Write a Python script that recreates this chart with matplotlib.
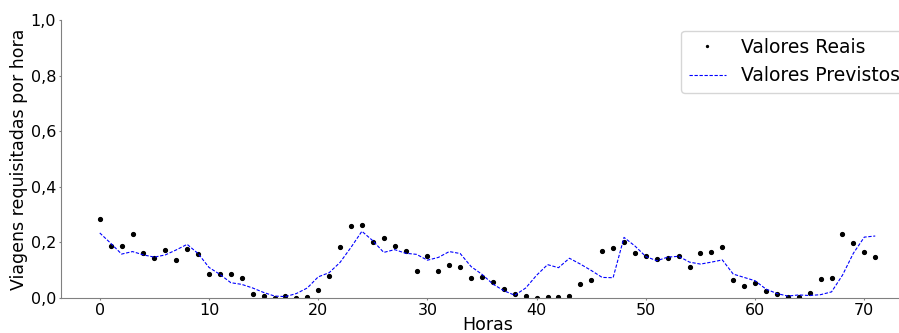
import matplotlib
matplotlib.use('Agg')
import matplotlib.pyplot as plt
import numpy as np

# dados
horas = np.arange(72)

reais = [0.284, 0.188, 0.188, 0.229, 0.163, 0.144, 0.173, 0.135, 0.175, 0.157,
         0.087, 0.087, 0.086, 0.073, 0.016, 0.006, 0.001, 0.008, 0.000, 0.004,
         0.030, 0.078, 0.182, 0.258, 0.263, 0.201, 0.217, 0.188, 0.170, 0.097,
         0.152, 0.097, 0.119, 0.113, 0.072, 0.076, 0.056, 0.034, 0.016, 0.007,
         0.000, 0.004, 0.002, 0.007, 0.050, 0.066, 0.170, 0.180, 0.201, 0.161,
         0.152, 0.139, 0.145, 0.152, 0.113, 0.161, 0.167, 0.183, 0.066, 0.043,
         0.053, 0.025, 0.016, 0.002, 0.004, 0.018, 0.070, 0.073, 0.229, 0.198,
         0.167, 0.149]

previstos = [0.234, 0.197, 0.158, 0.167, 0.155, 0.147, 0.155, 0.173, 0.193, 0.160,
             0.110, 0.085, 0.055, 0.049, 0.036, 0.020, 0.007, 0.005, 0.016, 0.036,
             0.076, 0.091, 0.128, 0.182, 0.240, 0.206, 0.164, 0.174, 0.161, 0.157,
             0.136, 0.146, 0.167, 0.160, 0.113, 0.085, 0.050, 0.026, 0.010, 0.036,
             0.082, 0.120, 0.109, 0.143, 0.122, 0.099, 0.074, 0.073, 0.218, 0.187,
             0.149, 0.134, 0.147, 0.150, 0.129, 0.122, 0.129, 0.137, 0.086, 0.074,
             0.062, 0.032, 0.016, 0.007, 0.011, 0.009, 0.012, 0.022, 0.082, 0.161,
             0.219, 0.223]

fig = plt.figure(figsize=(8.99, 3.33), dpi=100)
ax = fig.add_axes([61/899, 35/333, 853/899, 278/333])

ax.plot(horas, reais, 'k.', markersize=5.5, label='Valores Reais')
ax.plot(horas, previstos, 'b--', linewidth=0.8, dashes=(3, 1.5), label='Valores Previstos')

ax.set_ylim(0, 1)
ax.set_xlim(-3.55, 74.55)
ax.set_yticks([0, 0.2, 0.4, 0.6, 0.8, 1.0])
ax.set_yticklabels(['0,0', '0,2', '0,4', '0,6', '0,8', '1,0'])
ax.set_xticks([0, 10, 20, 30, 40, 50, 60, 70])
ax.tick_params(labelsize=11.5, color='gray', length=1.5, pad=2)
ax.set_xlabel('Horas', fontsize=12.5, labelpad=-1.5)
ax.set_ylabel('Viagens requisitadas por hora', fontsize=12.5, labelpad=2)
for s in ['top', 'right']:
    ax.spines[s].set_visible(False)
for s in ['left', 'bottom']:
    ax.spines[s].set_color('gray')

ax.legend(loc='upper left', bbox_to_anchor=(681/899, (333 - 30.5)/333),
          bbox_transform=fig.transFigure, borderaxespad=0, fontsize=13.5,
          markerscale=0.5)

fig.savefig('out.png', dpi=100)
